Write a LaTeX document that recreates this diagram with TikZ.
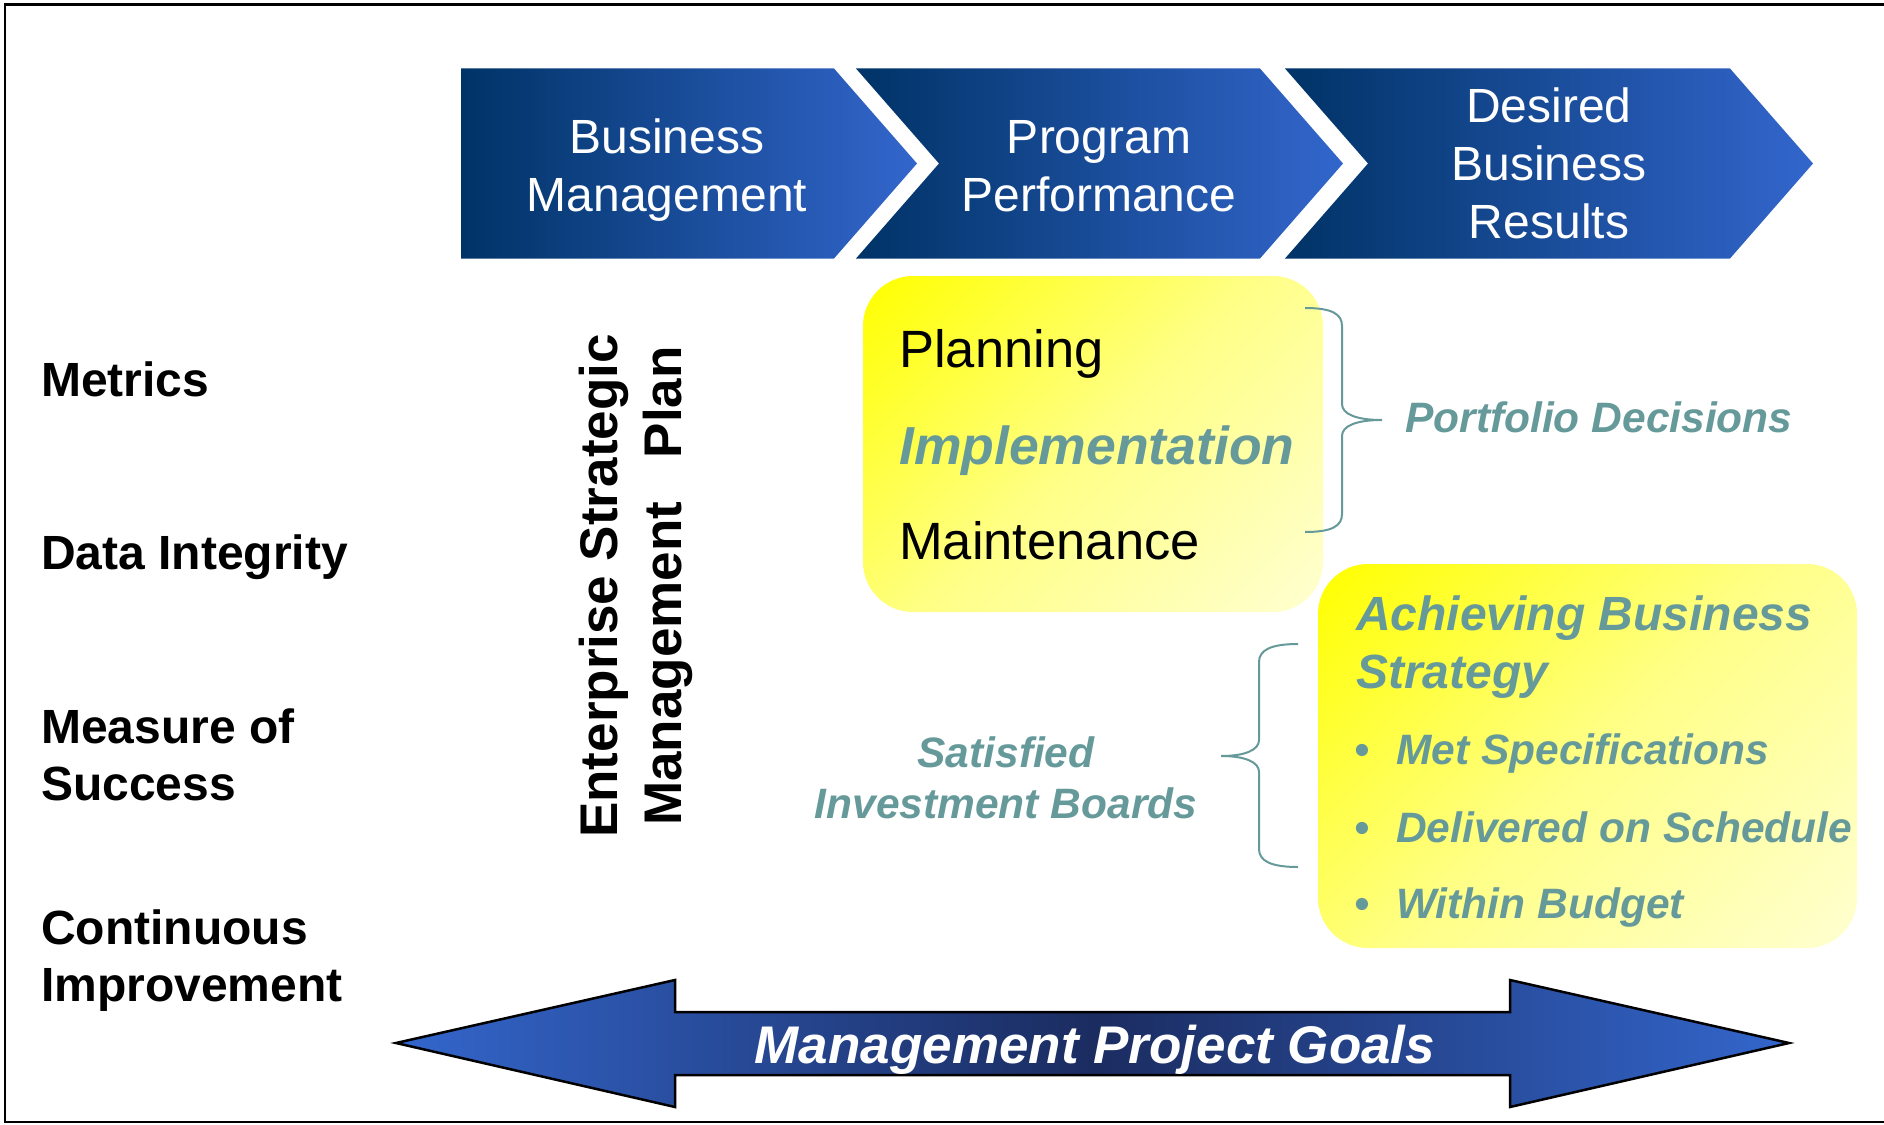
\documentclass[tikz,border=0pt]{standalone}
\usepackage{fontspec}
\setmainfont{Liberation Sans}
\usetikzlibrary{positioning}

\definecolor{navy}{RGB}{0,51,102}
\definecolor{chevblue}{RGB}{51,102,204}
\definecolor{goalnavy}{RGB}{27,44,96}
\definecolor{greyteal}{RGB}{102,153,153}
\definecolor{paleyellow}{RGB}{255,255,208}
\colorlet{midyellow}{yellow!35!paleyellow}

% bright corner fading out across the panel
\pgfdeclareverticalshading{panelfade}{100bp}{color(0bp)=(paleyellow); color(15bp)=(paleyellow);
  color(50bp)=(midyellow); color(85bp)=(yellow); color(100bp)=(yellow)}

\tikzset{
  chevron/.style={left color=navy, right color=chevblue},
  chevtext/.style={text=white, align=center, inner sep=0pt, anchor=base,
    font=\fontsize{48}{58}\selectfont},
  panel/.style={shading=panelfade, shading angle=45, rounded corners=50pt},
  rowlabel/.style={anchor=base west, inner sep=0pt, align=left,
    font=\bfseries\fontsize{48}{57}\selectfont},
  steptext/.style={anchor=base west, inner sep=0pt,
    font=\fontsize{52.5}{63}\selectfont},
  note/.style={text=greyteal, inner sep=0pt,
    font=\bfseries\itshape\fontsize{42.5}{51}\selectfont},
  bracket/.style={draw=greyteal, line width=2pt}
}

\begin{document}
\begin{tikzpicture}[x=1pt, y=-1pt]
  \useasboundingbox (0,0) rectangle (1884,1124);
  \draw[line width=2.5pt] (1884,4.5) -| (5,1122) -- (1884,1122);

  % process chevrons (multi-line nodes sit on their last baseline)
  \shade[chevron] (461,68.5) -- (834,68.5) -- (917,163.5) -- (834,258.5) -- (461,258.5) -- cycle;
  \shade[chevron] (856,68.5) -- (1260,68.5) -- (1343,163.5) -- (1260,258.5) -- (856,258.5) -- (939,163.5) -- cycle;
  \shade[chevron] (1285,68.5) -- (1730,68.5) -- (1813,163.5) -- (1730,258.5) -- (1285,258.5) -- (1368,163.5) -- cycle;
  \node[chevtext] (bizmgmt) at (667,211) {Business\\Management};
  \node[chevtext] (progperf) at (1099,211) {Program\\Performance};
  \node[chevtext] (results) at (1549,238) {Desired\\Business\\Results};

  % left column
  \node[rowlabel] (metrics)   at (41,396) {Metrics};
  \node[rowlabel] (integrity) at (41,569) {Data Integrity};
  \node[rowlabel] (measure)   at (41,800) {Measure of\\Success};
  \node[rowlabel] (improve)   at (41,1001) {Continuous\\Improvement};

  \node[rotate=90, align=center, inner sep=0pt,
        font=\bfseries\fontsize{53}{64}\selectfont] (esmp) at (636,586)
        {Enterprise Strategic\\Management\hspace{0.82em}Plan};

  % yellow panels
  \shade[panel] (863,276) rectangle (1323,612);
  \shade[panel] (1318,564) rectangle (1857,948);

  \node[steptext] (planning) at (899,367) {Planning};
  \node[steptext, text=greyteal, font=\bfseries\itshape\fontsize{53.5}{63}\selectfont]
        (implement) at (899,464) {Implementation};
  \node[steptext] (maint) at (899,559) {Maintenance};

  \node[note, anchor=base west] (portfolio) at (1405,432) {Portfolio Decisions};
  \draw[bracket] (1305,308) .. controls (1332,308) and (1342,314) .. (1342,326)
    -- (1342,404) .. controls (1342,414) and (1356,420) .. (1382,420)
    .. controls (1356,420) and (1342,426) .. (1342,436)
    -- (1342,514) .. controls (1342,526) and (1332,532) .. (1305,532);

  \node[note, anchor=base west, align=left, font=\bfseries\itshape\fontsize{48}{58}\selectfont]
        (strategy) at (1356,688) {Achieving Business\\Strategy};
  \node[note, anchor=base west] (specs)    at (1354,764) {\makebox[42pt][l]{\textbullet}Met Specifications};
  \node[note, anchor=base west] (schedule) at (1354,842) {\makebox[42pt][l]{\textbullet}Delivered on Schedule};
  \node[note, anchor=base west] (budget)   at (1354,918) {\makebox[42pt][l]{\textbullet}Within Budget};

  \node[note, anchor=base, align=center] (boards) at (1006,818) {Satisfied\\Investment Boards};
  \draw[bracket] (1298,644) .. controls (1271,644) and (1259,650) .. (1259,662)
    -- (1259,740) .. controls (1259,750) and (1245,756) .. (1221,756)
    .. controls (1245,756) and (1259,762) .. (1259,772)
    -- (1259,849) .. controls (1259,861) and (1271,867) .. (1298,867);

  % goals arrow
  \shadedraw[line width=2.5pt, left color=chevblue, right color=chevblue, middle color=goalnavy]
    (396,1043) -- (675,980) -- (675,1012) -- (1510,1012) -- (1510,980) -- (1789,1043)
    -- (1510,1107) -- (1510,1075) -- (675,1075) -- (675,1107) -- cycle;
  \node[anchor=base, inner sep=0pt, text=white,
        font=\bfseries\itshape\fontsize{53}{64}\selectfont] (goals) at (1095,1063)
        {Management Project Goals};
\end{tikzpicture}
\end{document}
